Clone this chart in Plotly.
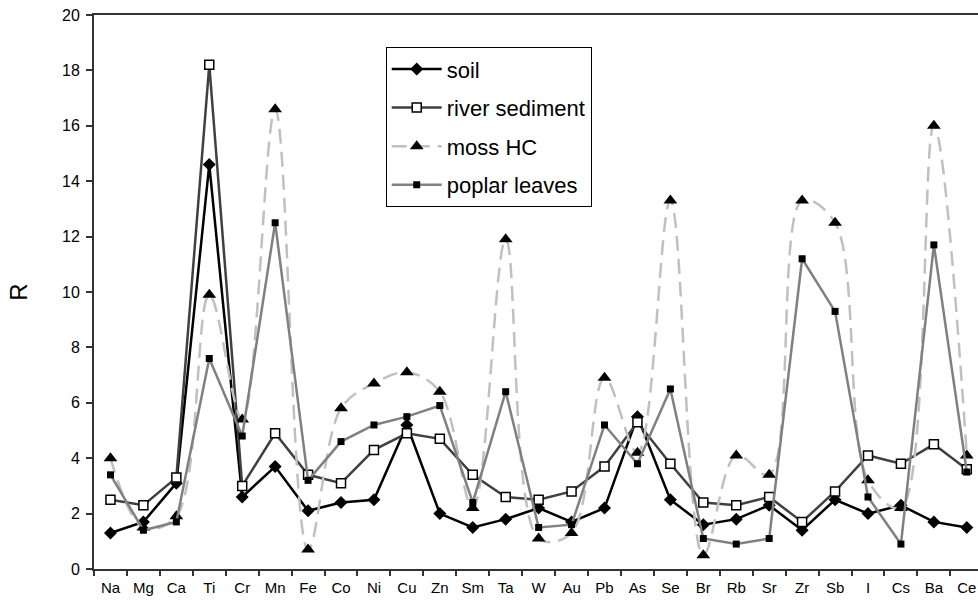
import plotly.graph_objects as go

elements = ["Na", "Mg", "Ca", "Ti", "Cr", "Mn", "Fe", "Co", "Ni", "Cu", "Zn", "Sm", "Ta", "W",
            "Au", "Pb", "As", "Se", "Br", "Rb", "Sr", "Zr", "Sb", "I", "Cs", "Ba", "Ce"]

soil = [1.3, 1.7, 3.1, 14.6, 2.6, 3.7, 2.1, 2.4, 2.5, 5.2, 2.0, 1.5, 1.8, 2.2,
        1.7, 2.2, 5.5, 2.5, 1.6, 1.8, 2.3, 1.4, 2.5, 2.0, 2.3, 1.7, 1.5]
river_sediment = [2.5, 2.3, 3.3, 18.2, 3.0, 4.9, 3.4, 3.1, 4.3, 4.9, 4.7, 3.4, 2.6, 2.5,
                  2.8, 3.7, 5.3, 3.8, 2.4, 2.3, 2.6, 1.7, 2.8, 4.1, 3.8, 4.5, 3.6]
moss_hc = [4.0, 1.5, 1.9, 9.9, 5.4, 16.6, 0.7, 5.8, 6.7, 7.1, 6.4, 2.2, 11.9, 1.1,
           1.3, 6.9, 4.2, 13.3, 0.5, 4.1, 3.4, 13.3, 12.5, 3.2, 2.2, 16.0, 4.1]
poplar_leaves = [3.4, 1.4, 1.7, 7.6, 4.8, 12.5, 3.2, 4.6, 5.2, 5.5, 5.9, 2.4, 6.4, 1.5,
                 1.6, 5.2, 3.8, 6.5, 1.1, 0.9, 1.1, 11.2, 9.3, 2.6, 0.9, 11.7, 3.5]

y_ticks = [0, 2, 4, 6, 8, 10, 12, 14, 16, 18, 20]

FONT = "Liberation Sans, Arial, sans-serif"

fig = go.Figure()

fig.add_trace(go.Scatter(
    x=elements, y=soil, name="soil", mode="lines+markers", legendgroup="a",
    line=dict(color="#000000", width=2.5),
    marker=dict(symbol="diamond", size=10, color="#000000"),
))
fig.add_trace(go.Scatter(
    x=elements, y=river_sediment, name="river sediment", mode="lines+markers", legendgroup="b",
    line=dict(color="#404040", width=2.5),
    marker=dict(symbol="square", size=9, color="#ffffff", line=dict(color="#000000", width=1.5)),
))
fig.add_trace(go.Scatter(
    x=elements, y=moss_hc, name="moss HC", mode="lines+markers", legendgroup="c",
    line=dict(color="#c0c0c0", width=2.5, dash="15px,8px", shape="spline", smoothing=1.0),
    marker=dict(symbol="triangle-up", size=12, color="#000000"),
))
fig.add_trace(go.Scatter(
    x=elements, y=poplar_leaves, name="poplar leaves", mode="lines+markers", legendgroup="d",
    line=dict(color="#808080", width=2.5),
    marker=dict(symbol="square", size=7, color="#000000"),
))

fig.update_layout(
    width=978, height=601,
    margin=dict(l=94, r=0, t=15, b=32, pad=0),
    paper_bgcolor="#ffffff", plot_bgcolor="#ffffff",
    font=dict(family=FONT, size=15, color="#000000"),
    showlegend=True,
    legend=dict(
        x=0.33, y=0.942, xanchor="left", yanchor="top",
        bgcolor="#ffffff", bordercolor="#000000", borderwidth=1,
        font=dict(family=FONT, size=22, color="#000000"),
        tracegroupgap=7, traceorder="grouped", itemwidth=50,
    ),
    xaxis=dict(
        type="category", range=[-0.5, 26.34],
        showline=True, linecolor="#333333", linewidth=2, mirror=True,
        ticks="outside", tickson="boundaries", ticklen=5, tickwidth=1.5, tickcolor="#333333",
        showgrid=False, zeroline=False, ticklabelstandoff=4,
        tickfont=dict(family=FONT, size=15, color="#000000"),
    ),
    yaxis=dict(
        range=[0, 20], tickvals=y_ticks,
        showline=True, linecolor="#333333", linewidth=2,
        ticks="outside", ticklen=6, tickwidth=1.5, tickcolor="#333333",
        showgrid=False, zeroline=False, ticklabelstandoff=3,
        tickfont=dict(family=FONT, size=16, color="#000000"),
        title=dict(text="R", font=dict(family=FONT, size=24, color="#000000"), standoff=28),
    ),
)

fig.write_html("out.html")
